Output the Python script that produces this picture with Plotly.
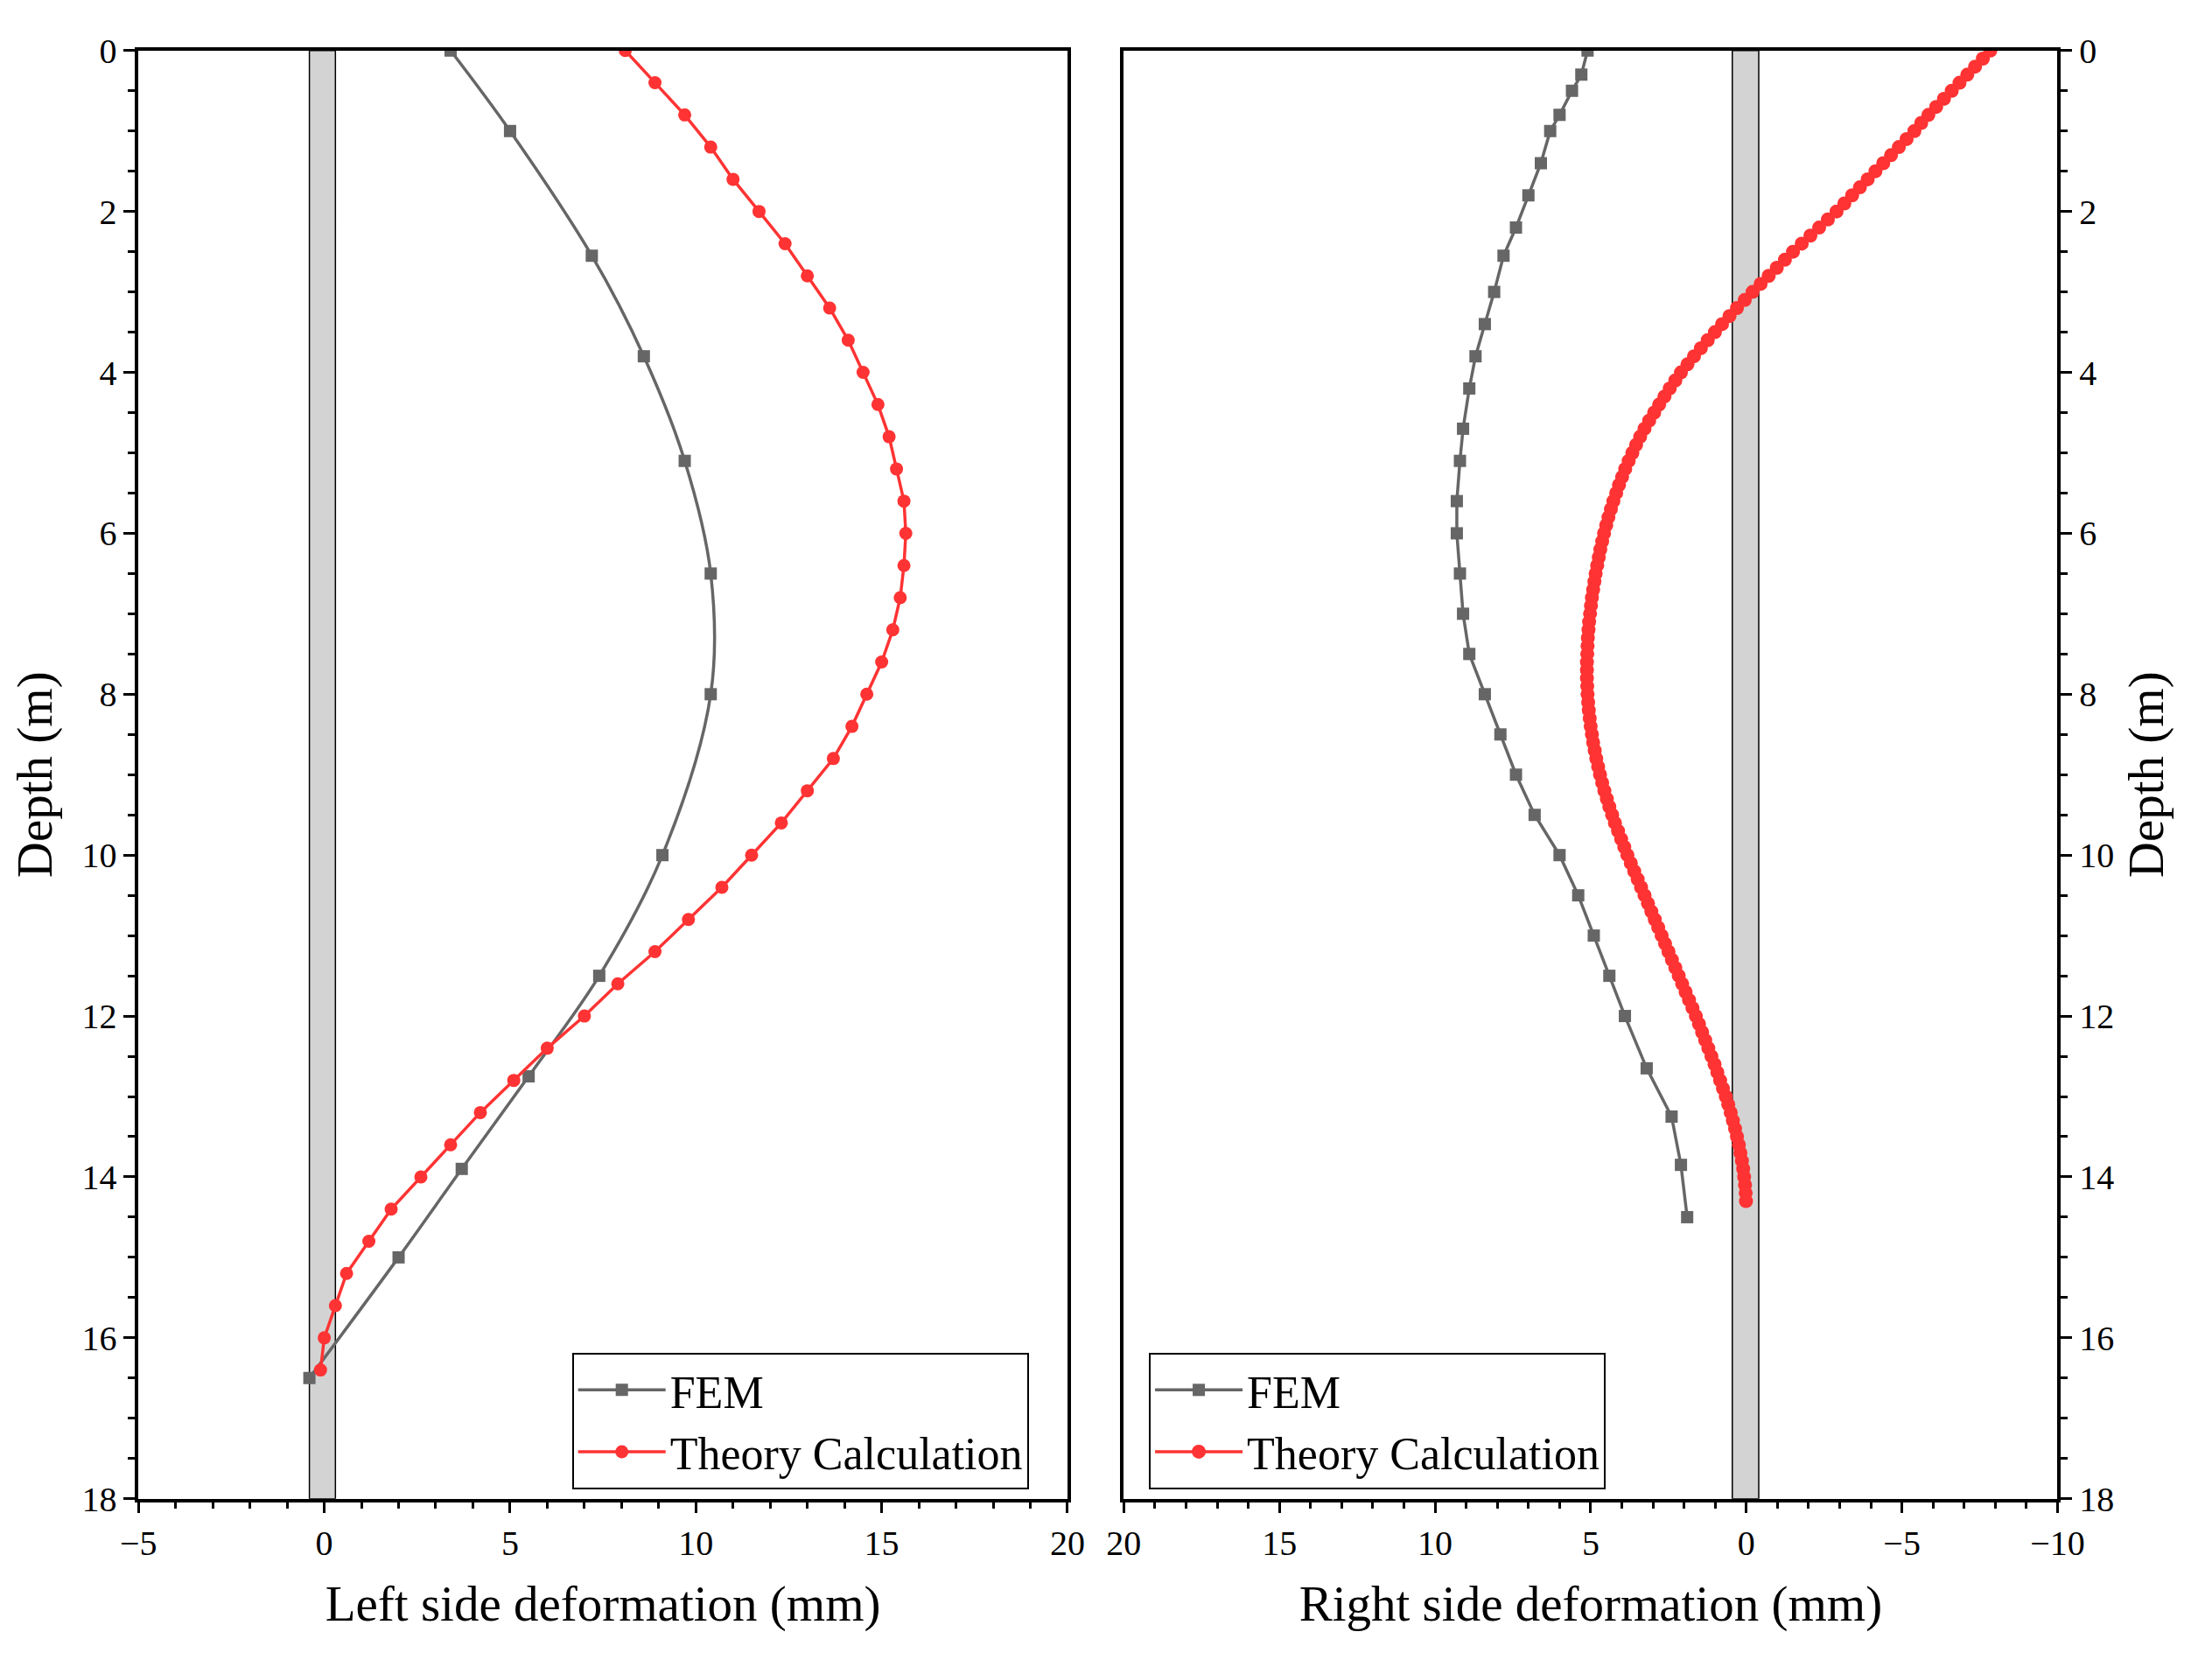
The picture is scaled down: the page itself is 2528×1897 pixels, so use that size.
import plotly.graph_objects as go

left_fem_depth = [0, 1, 2.55, 3.8, 5.1, 6.5, 8, 10, 11.5, 12.75, 13.9, 15, 16.5]
left_fem_def = [3.4, 5.0, 7.2, 8.6, 9.7, 10.4, 10.4, 9.1, 7.4, 5.5, 3.7, 2.0, -0.4]

left_th_depth = [round(i * 0.4, 1) for i in range(42)]
left_th_def = [8.1, 8.9, 9.7, 10.4, 11.0, 11.7, 12.4, 13.0, 13.6, 14.1, 14.5, 14.9, 15.2, 15.4,
               15.6, 15.65, 15.6, 15.5, 15.3, 15.0, 14.6, 14.2, 13.7, 13.0, 12.3, 11.5, 10.7,
               9.8, 8.9, 7.9, 7.0, 6.0, 5.1, 4.2, 3.4, 2.6, 1.8, 1.2, 0.6, 0.3, 0.0, -0.1]

right_fem_depth = [0, 0.3, 0.5, 0.8, 1.0, 1.4, 1.8, 2.2, 2.55, 3.0, 3.4, 3.8, 4.2, 4.7, 5.1, 5.6,
                   6.0, 6.5, 7.0, 7.5, 8.0, 8.5, 9.0, 9.5, 10.0, 10.5, 11.0, 11.5, 12.0, 12.65,
                   13.25, 13.85, 14.5]
right_fem_def = [5.1, 5.3, 5.6, 6.0, 6.3, 6.6, 7.0, 7.4, 7.8, 8.1, 8.4, 8.7, 8.9, 9.1, 9.2, 9.3,
                 9.3, 9.2, 9.1, 8.9, 8.4, 7.9, 7.4, 6.8, 6.0, 5.4, 4.9, 4.4, 3.9, 3.2, 2.4, 2.1, 1.9]

right_th_depth = [round(i * 0.1, 1) for i in range(144)]
right_th_def = [-7.84, -7.6, -7.35, -7.1, -6.85, -6.6, -6.35, -6.1, -5.85, -5.62,
                -5.4, -5.15, -4.9, -4.65, -4.4, -4.15, -3.9, -3.65, -3.4, -3.15,
                -2.9, -2.62, -2.34, -2.06, -1.78, -1.5, -1.24, -0.98, -0.72, -0.46,
                -0.2, 0.05, 0.3, 0.54, 0.78, 1.01, 1.24, 1.46, 1.68, 1.89,
                2.1, 2.28, 2.46, 2.63, 2.8, 2.96, 3.12, 3.27, 3.41, 3.54,
                3.66, 3.78, 3.89, 3.99, 4.09, 4.18, 4.27, 4.35, 4.43, 4.5,
                4.57, 4.63, 4.69, 4.74, 4.79, 4.84, 4.88, 4.92, 4.96, 4.99,
                5.02, 5.05, 5.07, 5.09, 5.1, 5.11, 5.12, 5.12, 5.12, 5.11,
                5.1, 5.08, 5.06, 5.03, 5.0, 4.96, 4.92, 4.87, 4.82, 4.76,
                4.7, 4.63, 4.56, 4.48, 4.4, 4.31, 4.22, 4.12, 4.02, 3.92,
                3.82, 3.71, 3.6, 3.49, 3.38, 3.27, 3.16, 3.05, 2.94, 2.83,
                2.72, 2.61, 2.5, 2.39, 2.28, 2.17, 2.06, 1.95, 1.84, 1.73,
                1.62, 1.52, 1.42, 1.32, 1.22, 1.12, 1.02, 0.93, 0.84, 0.75,
                0.66, 0.58, 0.5, 0.43, 0.36, 0.3, 0.24, 0.19, 0.14, 0.1,
                0.07, 0.04, 0.02, 0.01]

GRAY = "#666666"
RED = "#FF3333"
FONT = "Liberation Serif"

fig = go.Figure()
fig.add_trace(go.Scatter(x=left_fem_def, y=left_fem_depth, mode="lines+markers", name="FEM",
                         line=dict(color=GRAY, width=3.5, shape="spline"),
                         marker=dict(symbol="square", size=14, color=GRAY),
                         xaxis="x", yaxis="y", legend="legend"))
fig.add_trace(go.Scatter(x=left_th_def, y=left_th_depth, mode="lines+markers", name="Theory Calculation",
                         line=dict(color=RED, width=3.5), marker=dict(symbol="circle", size=15, color=RED),
                         xaxis="x", yaxis="y", legend="legend"))
fig.add_trace(go.Scatter(x=right_fem_def, y=right_fem_depth, mode="lines+markers", name="FEM",
                         line=dict(color=GRAY, width=3.5), marker=dict(symbol="square", size=14, color=GRAY),
                         xaxis="x2", yaxis="y2", legend="legend2"))
fig.add_trace(go.Scatter(x=right_th_def, y=right_th_depth, mode="lines+markers", name="Theory Calculation",
                         line=dict(color=RED, width=3.5), marker=dict(symbol="circle", size=16, color=RED),
                         xaxis="x2", yaxis="y2", legend="legend2"))

fig.add_shape(type="rect", xref="x", yref="y", x0=-0.4, x1=0.3, y0=0, y1=18,
              fillcolor="#D3D3D3", line=dict(color="black", width=1.5), layer="below")
fig.add_shape(type="rect", xref="x2", yref="y2", x0=0.45, x1=-0.4, y0=0, y1=18,
              fillcolor="#D3D3D3", line=dict(color="black", width=1.5), layer="below")

ax_common = dict(showline=True, linecolor="black", linewidth=3.5, mirror=True, ticks="outside",
                 ticklen=13, tickwidth=3, tickcolor="black", showgrid=False, zeroline=False,
                 tickfont=dict(family=FONT, size=40, color="black"),
                 minor=dict(ticks="outside", ticklen=8, tickwidth=3, tickcolor="black"))

fig.update_layout(
    width=2528, height=1897, plot_bgcolor="white", paper_bgcolor="white",
    margin=dict(l=0, r=0, t=0, b=0),
    font=dict(family=FONT, color="black"),
    xaxis=dict(ax_common, domain=[0.0522, 0.481], range=[-5, 20], dtick=5, anchor="y",
               title=dict(text="Left side deformation (mm)", font=dict(size=57), standoff=28)),
    yaxis=dict(ax_common, domain=[0.0914, 0.985], range=[18, 0], dtick=2, anchor="x",
               title=dict(text="Depth (m)", font=dict(size=57), standoff=18)),
    xaxis2=dict(ax_common, domain=[0.507, 0.938], range=[20, -10], dtick=5, anchor="y2",
                title=dict(text="Right side deformation (mm)", font=dict(size=57), standoff=28)),
    yaxis2=dict(ax_common, domain=[0.0914, 0.985], range=[18, 0], dtick=2, anchor="x2", side="right",
                title=dict(text="Depth (m)", font=dict(size=57), standoff=18)),
    legend=dict(x=0.2523, y=0.1814, xanchor="left", yanchor="top", bordercolor="black", borderwidth=2,
                bgcolor="white", font=dict(family=FONT, size=52), tracegroupgap=0, itemwidth=100),
    legend2=dict(x=0.5186, y=0.1814, xanchor="left", yanchor="top", bordercolor="black", borderwidth=2,
                 bgcolor="white", font=dict(family=FONT, size=52), tracegroupgap=0, itemwidth=100),
)

fig.write_html("out.html")
